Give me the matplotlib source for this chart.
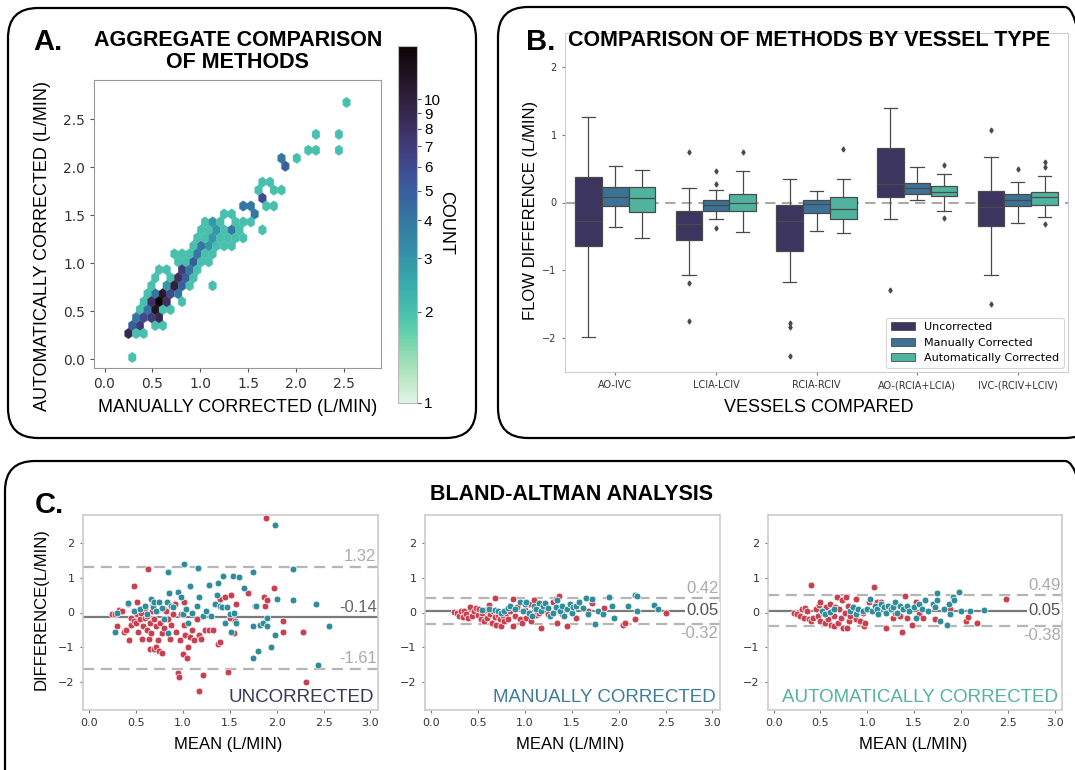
import numpy as np
import matplotlib as mpl
mpl.use("Agg")
import matplotlib.pyplot as plt
import seaborn as sns  # noqa: F401  (registers the mako colormaps)
from matplotlib.colors import LogNorm
from matplotlib.patches import FancyBboxPatch, Patch

W, H = 1075, 770
HEAD = "Liberation Sans"

# ---------------- panel A: hexbin of auto vs manual flow (hex centre, count)
hex_x = [0.29,
         0.25, 0.33, 0.41,
         0.29, 0.37, 0.53, 0.61,
         0.33, 0.41, 0.49, 0.57,
         0.37, 0.45, 0.53, 0.61, 0.69,
         0.41, 0.49, 0.57, 0.65, 0.81,
         0.45, 0.53, 0.61, 0.69, 0.77,
         0.49, 0.65, 0.73, 0.81, 0.89, 1.13,
         0.53, 0.69, 0.77, 0.85, 0.93,
         0.57, 0.65, 0.81, 0.89, 0.97,
         0.77, 0.85, 0.93, 1.01, 1.09,
         0.73, 0.81, 0.89, 0.97, 1.05, 1.13,
         0.93, 1.01, 1.09, 1.17, 1.25, 1.33,
         0.97, 1.05, 1.13, 1.21, 1.29, 1.37, 1.45,
         1.01, 1.09, 1.17, 1.25, 1.33, 1.41, 1.65,
         1.05, 1.13, 1.21, 1.37, 1.45, 1.53,
         1.25, 1.33, 1.57,
         1.45, 1.53, 1.69, 1.77,
         1.65,
         1.61, 1.77, 1.85,
         1.65, 1.73,
         1.89,
         1.85, 2.01,
         2.13, 2.21, 2.45,
         2.21, 2.45,
         2.50]
hex_y = [0.02,
         0.27, 0.27, 0.27,
         0.35, 0.35, 0.35, 0.35,
         0.44, 0.44, 0.44, 0.44,
         0.52, 0.52, 0.52, 0.52, 0.52,
         0.60, 0.60, 0.60, 0.60, 0.60,
         0.68, 0.68, 0.68, 0.68, 0.68,
         0.77, 0.77, 0.77, 0.77, 0.77, 0.77,
         0.85, 0.85, 0.85, 0.85, 0.85,
         0.93, 0.93, 0.93, 0.93, 0.93,
         1.02, 1.02, 1.02, 1.02, 1.02,
         1.10, 1.10, 1.10, 1.10, 1.10, 1.10,
         1.18, 1.18, 1.18, 1.18, 1.18, 1.18,
         1.27, 1.27, 1.27, 1.27, 1.27, 1.27, 1.27,
         1.35, 1.35, 1.35, 1.35, 1.35, 1.35, 1.35,
         1.43, 1.43, 1.43, 1.43, 1.43, 1.43,
         1.51, 1.51, 1.51,
         1.60, 1.60, 1.60, 1.60,
         1.68,
         1.76, 1.76, 1.76,
         1.85, 1.85,
         2.01,
         2.10, 2.10,
         2.18, 2.18, 2.18,
         2.34, 2.34,
         2.68]
hex_n = [2,
         9, 2, 2,
         5, 7, 2, 2,
         4, 6, 7, 9,
         2, 4, 12, 2, 2,
         2, 8, 15, 8, 2,
         2, 4, 11, 6, 4,
         2, 3, 10, 5, 2, 2,
         2, 2, 8, 5, 2,
         2, 2, 7, 4, 2,
         2, 2, 5, 2, 2,
         2, 2, 2, 4, 2, 2,
         2, 4, 3, 2, 2, 2,
         2, 2, 3, 2, 2, 2, 2,
         2, 2, 3, 2, 4, 2, 2,
         2, 3, 2, 2, 2, 2,
         2, 2, 4,
         4, 4, 2, 2,
         6,
         2, 2, 2,
         2, 2,
         5,
         4, 2,
         2, 2, 2,
         2, 2,
         2]
count_ticks = [1, 2, 3, 4, 5, 6, 7, 8, 9, 10]

# ---------------- panel B: box statistics per vessel pair and method
vessels = ["AO-IVC", "LCIA-LCIV", "RCIA-RCIV", "AO-(RCIA+LCIA)", "IVC-(RCIV+LCIV)"]
methods = ["Uncorrected", "Manually Corrected", "Automatically Corrected"]
method_colors = ["#3b3560", "#3b7295", "#4fb39e"]
# rows = vessels, columns = methods
box_med = [[-0.27, 0.08, 0.06], [-0.31, -0.04, -0.01], [-0.27, -0.02, -0.10],
           [0.27, 0.21, 0.15], [-0.06, 0.03, 0.08]]
box_q1 = [[-0.64, -0.05, -0.14], [-0.55, -0.12, -0.12], [-0.71, -0.16, -0.25],
          [0.08, 0.13, 0.09], [-0.35, -0.05, -0.03]]
box_q3 = [[0.38, 0.23, 0.23], [-0.13, 0.03, 0.12], [-0.04, 0.04, 0.08],
          [0.81, 0.29, 0.25], [0.17, 0.13, 0.15]]
box_lo = [[-1.99, -0.36, -0.53], [-1.07, -0.25, -0.43], [-1.17, -0.42, -0.45],
          [-0.25, 0.03, -0.13], [-1.07, -0.30, -0.22]]
box_hi = [[1.26, 0.54, 0.48], [0.22, 0.18, 0.47], [0.34, 0.17, 0.34],
          [1.39, 0.52, 0.42], [0.67, 0.30, 0.39]]
box_out = [[[], [], []],
           [[0.75, -1.18, -1.75], [0.46, 0.28, -0.37], [0.75]],
           [[-1.78, -1.84, -2.26], [], [0.79]],
           [[-1.29], [], [0.56, -0.23]],
           [[1.07, -1.50], [0.50], [0.60, 0.52, -0.32]]]

# ---------------- panel C: Bland-Altman points (mean, difference), two groups
unc_red_x = [0.25, 0.28, 0.30, 0.32, 0.35, 0.38, 0.40, 0.42, 0.43, 0.45, 0.45, 0.48, 0.48,
             0.50, 0.52, 0.52, 0.53, 0.55, 0.56, 0.57, 0.58, 0.60, 0.60, 0.62, 0.62, 0.63,
             0.64, 0.65, 0.65, 0.66, 0.67, 0.68, 0.70, 0.70, 0.72, 0.72, 0.73, 0.74, 0.75,
             0.76, 0.78, 0.78, 0.80, 0.80, 0.82, 0.85, 0.87, 0.88, 0.90, 0.92, 0.93, 0.95,
             0.96, 0.97, 0.98, 1.00, 1.01, 1.02, 1.03, 1.05, 1.06, 1.08, 1.10, 1.12, 1.15,
             1.17, 1.18, 1.20, 1.22, 1.24, 1.28, 1.32, 1.38, 1.40, 1.40, 1.45, 1.48, 1.50,
             1.52, 1.55, 1.56, 1.57, 1.70, 1.87, 1.88, 1.89, 1.90, 1.97, 2.07, 2.07, 2.28, 2.31]
unc_red_y = [-0.05, -0.05, -0.40, 0.08, 0.05, -0.55, -0.50, 0.25, -0.80, -0.15, -0.35, 0.75, -0.25,
             -0.30, 0.30, -0.05, -0.55, -0.20, 0.00, -0.75, -0.40, -0.15, 0.12, -0.50, -0.10, 1.25,
             -0.75, -1.05, -0.30, -0.60, 0.05, 0.25, -0.20, -1.05, -0.40, -1.00, 0.05, -0.80, -1.10,
             -0.30, -0.60, -1.15, 0.10, -0.45, 0.05, -0.20, -0.75, -0.35, -0.05, 0.25, -0.55, -1.75,
             -1.85, -0.80, -0.05, -1.20, -0.35, 0.30, -0.65, -1.30, -1.00, -0.70, -0.50, -0.80, -0.20,
             -0.65, -2.25, -0.75, -1.80, -0.50, -0.50, -0.50, -0.90, 0.40, -0.85, 0.45, -1.70, -0.15,
             0.50, -0.60, -0.25, 0.25, 0.55, 0.45, 0.20, 2.72, 0.35, 0.70, -0.25, -0.55, -0.55, -2.00]
unc_teal_x = [0.28, 0.30, 0.42, 0.48, 0.55, 0.60, 0.62, 0.66, 0.68, 0.70, 0.72, 0.75, 0.78,
              0.80, 0.83, 0.84, 0.84, 0.86, 0.88, 0.90, 0.95, 0.98, 1.00, 1.02, 1.04, 1.06,
              1.08, 1.10, 1.15, 1.16, 1.18, 1.22, 1.25, 1.28, 1.30, 1.35, 1.37, 1.38, 1.40,
              1.42, 1.43, 1.45, 1.47, 1.50, 1.52, 1.54, 1.55, 1.57, 1.60, 1.65, 1.75, 1.75,
              1.75, 1.77, 1.78, 1.80, 1.82, 1.86, 1.90, 1.90, 1.94, 1.98, 1.98, 2.00, 2.17,
              2.17, 2.42, 2.44, 2.56]
unc_teal_y = [-0.55, 0.00, 0.28, 0.05, 0.10, 0.20, -0.05, 0.40, 0.15, 0.30, 0.05, 0.30, 0.12,
              -0.20, 0.30, 1.15, -0.60, 0.55, 0.20, 0.15, 0.60, 0.45, -0.05, 1.38, 0.10, -0.30,
              0.75, 0.00, 0.20, 1.27, 0.45, -0.10, 0.05, 0.80, -0.10, 0.25, 0.50, 0.85, 0.20,
              0.15, 1.05, -0.30, 0.15, -0.05, -0.55, 1.05, 0.00, -0.30, 1.02, 0.70, 1.15, -1.30,
              -0.40, 0.20, 0.20, -1.10, -0.35, -0.30, -0.15, -0.40, -1.00, 2.50, -0.65, 0.40, 1.25,
              0.35, 0.25, -1.50, -0.40]

man_red_x = [0.25, 0.28, 0.30, 0.32, 0.34, 0.36, 0.38, 0.40, 0.42, 0.44, 0.46, 0.48, 0.50,
             0.52, 0.54, 0.55, 0.57, 0.58, 0.60, 0.62, 0.63, 0.65, 0.66, 0.68, 0.69, 0.70,
             0.72, 0.74, 0.75, 0.77, 0.78, 0.80, 0.82, 0.85, 0.88, 0.88, 0.90, 0.92, 0.95,
             0.97, 1.00, 1.02, 1.05, 1.07, 1.10, 1.12, 1.15, 1.18, 1.20, 1.22, 1.25, 1.30,
             1.33, 1.35, 1.37, 1.40, 1.45, 1.50, 1.55, 1.68, 1.72, 1.85, 2.05, 2.07, 2.17, 2.50]
man_red_y = [0.02, 0.00, -0.10, 0.05, -0.12, 0.03, -0.05, -0.15, 0.15, -0.10, 0.05, 0.12, -0.08,
             0.10, -0.20, 0.00, -0.25, 0.08, -0.15, 0.22, -0.05, -0.30, 0.05, -0.12, 0.42, -0.35,
             -0.08, -0.20, -0.38, -0.10, -0.25, 0.00, -0.18, 0.05, 0.40, -0.38, -0.10, 0.15, -0.20,
             -0.30, 0.08, -0.15, 0.25, -0.25, 0.35, -0.08, 0.00, -0.45, 0.15, 0.08, -0.05, 0.30,
             0.40, -0.30, 0.48, -0.05, -0.38, 0.05, -0.15, 0.05, 0.28, 0.12, -0.35, -0.30, -0.20, 0.00]
man_teal_x = [0.55, 0.62, 0.68, 0.72, 0.75, 0.78, 0.82, 0.85, 0.90, 0.95, 0.98, 1.00, 1.02,
              1.05, 1.08, 1.10, 1.12, 1.15, 1.18, 1.20, 1.22, 1.25, 1.27, 1.30, 1.33, 1.35,
              1.38, 1.40, 1.42, 1.45, 1.48, 1.50, 1.52, 1.55, 1.58, 1.62, 1.65, 1.68, 1.72,
              1.75, 1.78, 1.83, 1.90, 1.93, 1.95, 2.10, 2.18, 2.20, 2.20, 2.38, 2.42]
man_teal_y = [0.08, 0.10, 0.08, 0.05, 0.00, 0.05, 0.12, 0.20, 0.10, 0.30, 0.05, 0.25, 0.30,
              0.00, -0.10, 0.20, 0.10, 0.28, 0.05, 0.18, 0.28, 0.12, -0.10, 0.00, 0.15, 0.35,
              0.05, 0.20, -0.10, 0.10, 0.25, 0.00, 0.15, 0.20, 0.30, 0.12, 0.42, -0.05, 0.40,
              -0.32, 0.05, -0.05, 0.45, 0.20, -0.15, 0.20, 0.50, 0.05, 0.48, 0.22, 0.10]

auto_red_x = [0.22, 0.25, 0.28, 0.30, 0.32, 0.34, 0.36, 0.38, 0.40, 0.40, 0.42, 0.45, 0.47,
              0.48, 0.50, 0.50, 0.53, 0.55, 0.56, 0.58, 0.60, 0.61, 0.62, 0.64, 0.65, 0.66,
              0.68, 0.69, 0.70, 0.72, 0.73, 0.74, 0.76, 0.77, 0.78, 0.79, 0.80, 0.82, 0.88,
              0.88, 0.92, 0.95, 0.97, 0.98, 1.02, 1.07, 1.10, 1.15, 1.20, 1.27, 1.30, 1.35,
              1.37, 1.40, 1.42, 1.48, 1.52, 1.55, 1.60, 1.72, 1.88, 2.05, 2.08, 2.17, 2.48]
auto_red_y = [0.00, -0.05, -0.10, 0.10, -0.15, 0.12, 0.05, -0.20, 0.78, -0.25, -0.15, 0.10, -0.10,
              0.22, 0.30, -0.25, 0.00, -0.30, 0.15, -0.20, 0.25, -0.35, 0.05, -0.10, -0.40, 0.15,
              0.45, -0.30, 0.10, -0.15, 0.35, -0.45, 0.00, 0.45, -0.45, 0.20, -0.25, -0.10, 0.38,
              -0.20, -0.25, 0.00, -0.40, -0.30, 0.30, 0.73, 0.30, 0.30, -0.45, -0.15, 0.00, -0.10,
              -0.55, 0.48, -0.15, -0.35, 0.30, -0.05, -0.15, -0.20, 0.10, -0.25, -0.12, -0.30, 0.38]
auto_teal_x = [0.52, 0.55, 0.60, 0.65, 0.82, 0.85, 0.88, 0.90, 0.95, 1.00, 1.03, 1.05, 1.08,
               1.10, 1.12, 1.15, 1.18, 1.20, 1.22, 1.25, 1.28, 1.30, 1.32, 1.35, 1.38, 1.42,
               1.45, 1.50, 1.52, 1.55, 1.58, 1.62, 1.65, 1.70, 1.72, 1.75, 1.75, 1.78, 1.82,
               1.85, 1.87, 1.88, 1.92, 1.93, 1.98, 2.00, 2.10, 2.25]
auto_teal_y = [0.05, -0.05, 0.02, 0.10, 0.05, 0.15, -0.05, 0.10, 0.05, 0.10, 0.40, 0.05, 0.20,
               0.10, -0.05, 0.25, 0.15, 0.00, 0.20, 0.10, 0.15, 0.30, 0.00, 0.20, 0.10, 0.20,
               0.05, 0.15, -0.15, 0.25, 0.10, 0.35, 0.05, 0.25, 0.15, 0.55, 0.35, -0.25, 0.10,
               -0.35, 0.25, -0.05, 0.45, 0.35, 0.58, 0.05, 0.05, 0.08]

ba_names = ["UNCORRECTED", "MANUALLY CORRECTED", "AUTOMATICALLY CORRECTED"]
ba_name_colors = ["#3a3858", "#3d7d9b", "#55b39c"]
ba_mean = [-0.14, 0.05, 0.05]
ba_upper = [1.32, 0.42, 0.49]
ba_lower = [-1.61, -0.32, -0.38]
RED, TEAL = "#c8404f", "#2f8d9b"


def px_axes(fig, l, t, r, b):
    return fig.add_axes([l / W, 1 - b / H, (r - l) / W, (b - t) / H])


def ftext(fig, x, y, s, **kw):
    return fig.text(x / W, 1 - y / H, s, **kw)


def rbox(fig, l, t, r, b):
    p = FancyBboxPatch((l / 100, (H - b) / 100), (r - l) / 100, (b - t) / 100,
                       boxstyle="round,pad=0,rounding_size=0.3",
                       transform=fig.dpi_scale_trans, fill=False, lw=1.6, ec="black")
    fig.add_artist(p)


fig = plt.figure(figsize=(W / 100, H / 100), dpi=100)
rbox(fig, 8, 8, 476, 438)
rbox(fig, 498, 7, 1095, 438)
rbox(fig, 5, 461, 1095, 800)

# ---------------- A
axA = px_axes(fig, 94, 80, 381, 368)
hb = axA.hexbin(hex_x, hex_y, C=hex_n, reduce_C_function=np.max, gridsize=(29, 16),
                extent=(0.21, 2.53, 0.02, 2.676), cmap="mako_r", norm=LogNorm(1, 15),
                linewidths=0.2, edgecolors="face")
axA.set_xlim(-0.11, 2.89)
axA.set_ylim(-0.09, 2.91)
axA.set_xticks(np.arange(0, 2.6, 0.5))
axA.set_yticks(np.arange(0, 2.6, 0.5))
axA.tick_params(labelsize=10, labelcolor="#333333", color="#555555", length=3)
for s in axA.spines.values():
    s.set_color("#999999")
cax = px_axes(fig, 398, 46, 417, 403)
cb = fig.colorbar(hb, cax=cax)
cb.set_ticks(count_ticks)
cb.set_ticklabels([str(t) for t in count_ticks])
cb.ax.minorticks_off()
cb.ax.tick_params(labelsize=11, length=3, color="#555555", pad=2)
for lab in cb.ax.get_yticklabels():
    lab.set_family(HEAD)
cb.outline.set_edgecolor("#bbbbbb")
ftext(fig, 446, 223, "COUNT", rotation=270, ha="center", va="center",
      fontsize=13, family=HEAD)
ftext(fig, 33, 42, "A.", fontsize=21, fontweight="bold", family=HEAD, va="center")
ftext(fig, 238, 40, "AGGREGATE COMPARISON", fontsize=15.5, fontweight="bold",
      family=HEAD, ha="center", va="center")
ftext(fig, 237, 62, "OF METHODS", fontsize=15.5, fontweight="bold",
      family=HEAD, ha="center", va="center")
ftext(fig, 238, 407, "MANUALLY CORRECTED (L/MIN)", fontsize=13, family=HEAD,
      ha="center", va="center")
ftext(fig, 43, 246, "AUTOMATICALLY CORRECTED (L/MIN)", fontsize=13, family=HEAD,
      ha="center", va="center", rotation=90)

# ---------------- B
axB = px_axes(fig, 565, 33, 1068, 372)
bw = 0.8 / 3
line_c = "#4a4a4a"
for j, m in enumerate(methods):
    stats = []
    for i in range(len(vessels)):
        stats.append(dict(med=box_med[i][j], q1=box_q1[i][j], q3=box_q3[i][j],
                          whislo=box_lo[i][j], whishi=box_hi[i][j],
                          fliers=box_out[i][j]))
    pos = [i + (j - 1) * bw for i in range(len(vessels))]
    axB.bxp(stats, positions=pos, widths=bw * 0.99, patch_artist=True,
            manage_ticks=False,
            boxprops=dict(facecolor=method_colors[j], edgecolor=line_c, lw=0.9),
            whiskerprops=dict(color=line_c, lw=0.9),
            capprops=dict(color=line_c, lw=0.9),
            medianprops=dict(color=line_c, lw=0.9),
            flierprops=dict(marker="d", markersize=2.5, markerfacecolor=line_c,
                            markeredgecolor=line_c))
axB.axhline(0, color="#aaaaaa", ls=(0, (5, 3)), lw=1.5, zorder=0.5)
axB.set_xlim(-0.5, 4.5)
axB.set_ylim(-2.5, 2.5)
axB.set_xticks(range(len(vessels)))
axB.set_xticklabels(vessels)
axB.set_yticks([-2, -1, 0, 1, 2])
axB.tick_params(labelsize=7, labelcolor="#333333", color="#777777", length=2.5)
for s in axB.spines.values():
    s.set_color("#cccccc")
handles = [Patch(facecolor=c, edgecolor=line_c, lw=0.6) for c in method_colors]
leg = axB.legend(handles, methods, loc="lower right", fontsize=8, frameon=True,
                 borderaxespad=0.4, handlelength=2.2)
leg.get_frame().set_edgecolor("#cccccc")
leg.get_frame().set_linewidth(0.8)
ftext(fig, 526, 42, "B.", fontsize=21, fontweight="bold", family=HEAD, va="center")
ftext(fig, 568, 40, "COMPARISON OF METHODS BY VESSEL TYPE", fontsize=15.5,
      fontweight="bold", family=HEAD, va="center")
ftext(fig, 530, 210, "FLOW DIFFERENCE (L/MIN)", fontsize=12, family=HEAD,
      ha="center", va="center", rotation=90)
ftext(fig, 819, 407, "VESSELS COMPARED", fontsize=13, family=HEAD,
      ha="center", va="center")

# ---------------- C
ba_boxes = [(83, 515, 378, 710), (425, 515, 720, 710), (768, 515, 1062, 710)]
ba_red = [(unc_red_x, unc_red_y), (man_red_x, man_red_y), (auto_red_x, auto_red_y)]
ba_teal = [(unc_teal_x, unc_teal_y), (man_teal_x, man_teal_y), (auto_teal_x, auto_teal_y)]
for k, (l, t, r, b) in enumerate(ba_boxes):
    ax = px_axes(fig, l, t, r, b)
    ax.scatter(*ba_red[k], s=24, c=RED, edgecolors="white", linewidths=0.5, zorder=3)
    ax.scatter(*ba_teal[k], s=24, c=TEAL, edgecolors="white", linewidths=0.5, zorder=3)
    ax.axhline(ba_mean[k], color="#7a7a7a", lw=1.6, zorder=1)
    ax.axhline(ba_upper[k], color="#b5b5b5", lw=1.6, ls=(0, (5, 3)), zorder=1)
    ax.axhline(ba_lower[k], color="#b5b5b5", lw=1.6, ls=(0, (5, 3)), zorder=1)
    tr = ax.get_yaxis_transform()
    ax.text(0.995, ba_upper[k] + 0.06, f"{ba_upper[k]:.2f}", transform=tr, ha="right",
            va="bottom", fontsize=12, color="#aaaaaa", family=HEAD)
    if k == 0:
        ax.text(0.995, ba_mean[k] + 0.06, f"{ba_mean[k]:.2f}", transform=tr, ha="right",
                va="bottom", fontsize=12, color="#666666", family=HEAD)
        ax.text(0.995, ba_lower[k] + 0.06, f"{ba_lower[k]:.2f}", transform=tr, ha="right",
                va="bottom", fontsize=12, color="#aaaaaa", family=HEAD)
    else:
        ax.text(0.995, ba_mean[k], f"{ba_mean[k]:.2f}", transform=tr, ha="right",
                va="center", fontsize=12, color="#555555", family=HEAD, zorder=4,
                bbox=dict(facecolor="white", edgecolor="none", pad=1))
        ax.text(0.995, ba_lower[k] - 0.06, f"{ba_lower[k]:.2f}", transform=tr, ha="right",
                va="top", fontsize=12, color="#aaaaaa", family=HEAD)
    ax.text(0.985, 0.02, ba_names[k], transform=ax.transAxes, ha="right", va="bottom",
            fontsize=13.5, color=ba_name_colors[k], family=HEAD)
    ax.set_xlim(-0.06, 3.08)
    ax.set_ylim(-2.8, 2.8)
    ax.set_xticks(np.arange(0, 3.01, 0.5))
    ax.set_xticklabels([f"{v:.1f}" for v in np.arange(0, 3.01, 0.5)])
    ax.set_yticks([-2, -1, 0, 1, 2])
    ax.tick_params(labelsize=8, labelcolor="#333333", color="#777777", length=2.5)
    for s in ax.spines.values():
        s.set_color("#cccccc")
        s.set_linewidth(1.2)
    ftext(fig, (l + r) / 2 - 2, 745, "MEAN (L/MIN)", fontsize=12, family=HEAD,
          ha="center", va="center")
ftext(fig, 35, 505, "C.", fontsize=21, fontweight="bold", family=HEAD, va="center")
ftext(fig, 572, 494, "BLAND-ALTMAN ANALYSIS", fontsize=15.5, fontweight="bold",
      family=HEAD, ha="center", va="center")
ftext(fig, 41, 609, "DIFFERENCE(L/MIN)", fontsize=12, family=HEAD,
      ha="center", va="center", rotation=90)

fig.savefig("out.png", dpi=100)
